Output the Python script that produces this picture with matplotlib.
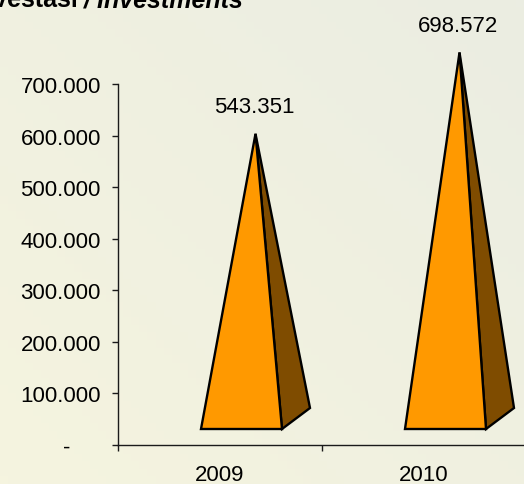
import numpy as np
import matplotlib
matplotlib.use('Agg')
from matplotlib import pyplot as plt
from matplotlib.patches import Polygon

# data
years = ['2009', '2010']
investments = [543351, 698572]
value_labels = ['543.351', '698.572']
y_ticks = [0, 100000, 200000, 300000, 400000, 500000, 600000, 700000]
y_tick_labels = ['-     ', '100.000', '200.000', '300.000', '400.000',
                 '500.000', '600.000', '700.000']

W, H = 524, 485
plt.rcParams['font.family'] = ['Liberation Sans', 'DejaVu Sans']
fig = plt.figure(figsize=(W / 100, H / 100), dpi=100)

# background gradient
bg = fig.add_axes([0, 0, 1, 1], zorder=-10)
gx, gy = np.meshgrid(np.linspace(0, 1, 64), np.linspace(0, 1, 64))
t = (gx + gy) / 2
c0 = np.array([245, 244, 223]) / 255
c1 = np.array([235, 237, 226]) / 255
img = c0[None, None, :] * (1 - t[..., None]) + c1[None, None, :] * t[..., None]
bg.imshow(img, origin='lower', extent=[0, 1, 0, 1], aspect='auto')
bg.axis('off')

# plot area (pixel layout)
left, right, bottom, top = 118, 526, 446, 85
ax = fig.add_axes([left / W, 1 - bottom / H, (right - left) / W,
                   (bottom - top) / H])
ax.set_facecolor('none')
ax.set_xlim(0, 2)
ax.set_ylim(0, 700000)

val_per_px = 700000 / (bottom - top)
cat_per_px = 1 / ((right - left) / 2)

# pseudo-3d pyramid geometry
front_y = 16 * val_per_px
depth_dy = 21 * val_per_px
depth_dx = 28 * cat_per_px
x_start = 83 * cat_per_px
x_end = 164 * cat_per_px
height_scale = 1.016

for i, v in enumerate(investments):
    x0 = i + x_start
    x1 = i + x_end
    apex = ((x0 + x1) / 2 + depth_dx / 2,
            front_y + depth_dy / 2 + v * height_scale)
    side = Polygon([(x1, front_y), (x1 + depth_dx, front_y + depth_dy), apex],
                   closed=True, facecolor='#7f4c00', edgecolor='black',
                   lw=1.7, joinstyle='miter', clip_on=False, zorder=3)
    front = Polygon([(x0, front_y), (x1, front_y), apex], closed=True,
                    facecolor='#ff9900', edgecolor='black', lw=1.7,
                    joinstyle='miter', clip_on=False, zorder=4)
    ax.add_patch(side)
    ax.add_patch(front)
    ax.annotate(value_labels[i], xy=apex, xytext=(-1, 19.5),
                textcoords='offset points', ha='center', va='center',
                fontsize=16, color='black', annotation_clip=False)

# axes styling
for s in ['top', 'right']:
    ax.spines[s].set_visible(False)
for s in ['left', 'bottom']:
    ax.spines[s].set_color('#1a1a1a')
    ax.spines[s].set_linewidth(1.0)

ax.set_yticks(y_ticks)
ax.set_yticklabels(y_tick_labels)
ax.tick_params(axis='y', direction='out', length=4.3, width=1.0,
               color='#1a1a1a', pad=8, labelsize=16)
ax.set_xticks([0, 1, 2])
ax.set_xticklabels([])
ax.set_xticks([0.5, 1.5], minor=True)
ax.set_xticklabels(years, minor=True)
ax.tick_params(axis='x', which='major', direction='out', length=4.3,
               width=1.0, color='#1a1a1a')
ax.tick_params(axis='x', which='minor', length=0, pad=14, labelsize=16)

# title, cut at the top edge as in the original
fig.text(78 / W, 1 - 7 / H, 'Investasi', ha='right', va='baseline',
         fontsize=18, fontweight='bold')
fig.text(84 / W, 1 - 7 / H, '/ Investments', ha='left', va='baseline',
         fontsize=18, fontweight='bold', fontstyle='italic')

fig.savefig('out.png', dpi=100)
